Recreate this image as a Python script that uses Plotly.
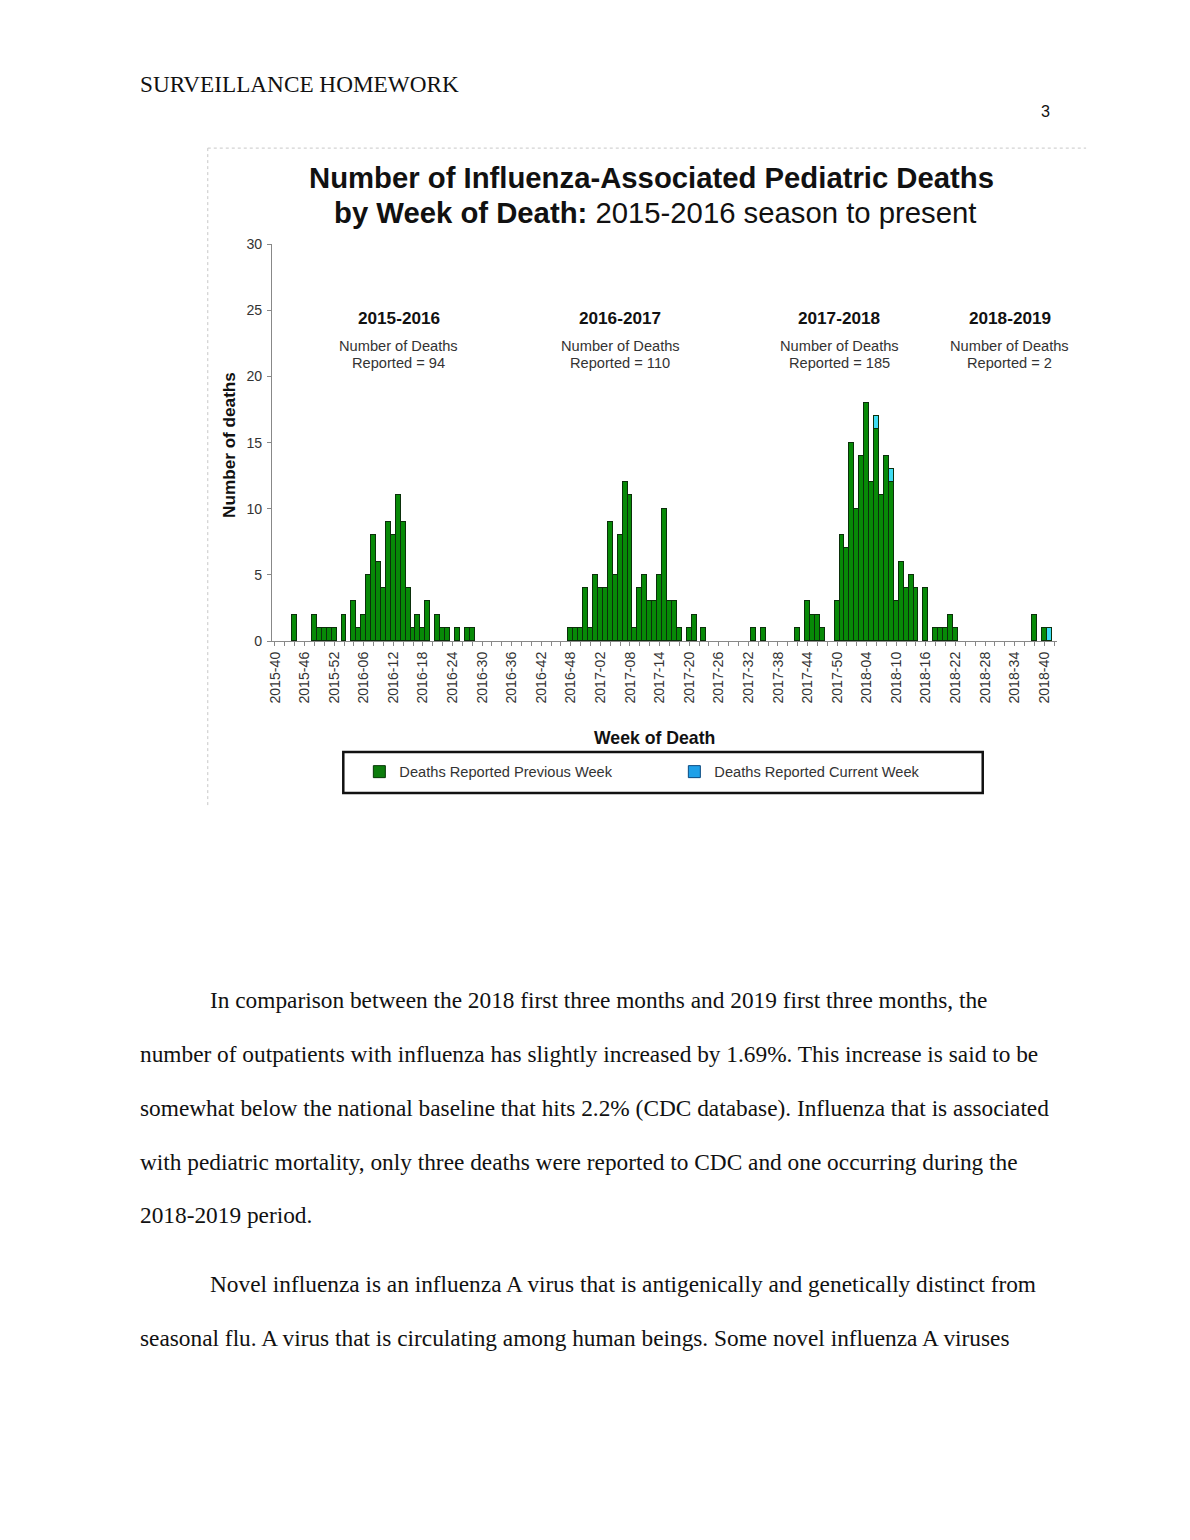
import plotly.graph_objects as go

W, H = 1190, 1540

# ---- category axis: MMWR weeks 2015-40 .. 2018-42 ----
week_spans = [(2015, 40, 52), (2016, 1, 52), (2017, 1, 52), (2018, 1, 42)]
weeks = []
for yr, first, last in week_spans:
    for wk in range(first, last + 1):
        weeks.append(f"{yr}-{wk:02d}")

# ---- data ----
prev_weeks = [
    "2015-44", "2015-48", "2015-49", "2015-50", "2015-51", "2015-52",
    "2016-02", "2016-04", "2016-05", "2016-06", "2016-07", "2016-08", "2016-09",
    "2016-10", "2016-11", "2016-12", "2016-13", "2016-14", "2016-15", "2016-16",
    "2016-17", "2016-18", "2016-19", "2016-21", "2016-22", "2016-23", "2016-25",
    "2016-27", "2016-28",
    "2016-48", "2016-49", "2016-50", "2016-51", "2016-52",
    "2017-01", "2017-02", "2017-03", "2017-04", "2017-05", "2017-06", "2017-07",
    "2017-08", "2017-09", "2017-10", "2017-11", "2017-12", "2017-13", "2017-14",
    "2017-15", "2017-16", "2017-17", "2017-18", "2017-20", "2017-21", "2017-23",
    "2017-33", "2017-35",
    "2017-42", "2017-44", "2017-45", "2017-46", "2017-47", "2017-50", "2017-51",
    "2017-52", "2018-01", "2018-02", "2018-03", "2018-04", "2018-05", "2018-06",
    "2018-07", "2018-08", "2018-09", "2018-10", "2018-11", "2018-12", "2018-13",
    "2018-14", "2018-16", "2018-18", "2018-19", "2018-20", "2018-21", "2018-22",
    "2018-38", "2018-40",
]
prev_deaths = [
    2, 2, 1, 1, 1, 1,
    2, 3, 1, 2, 5, 8, 6,
    4, 9, 8, 11, 9, 4, 1,
    2, 1, 3, 2, 1, 1, 1,
    1, 1,
    1, 1, 1, 4, 1,
    5, 4, 4, 9, 5, 8, 12,
    11, 1, 4, 5, 3, 3, 5,
    10, 3, 3, 1, 1, 2, 1,
    1, 1,
    1, 3, 2, 2, 1, 3, 8,
    7, 15, 10, 14, 18, 12, 16,
    11, 14, 12, 3, 6, 4, 5,
    4, 4, 1, 1, 1, 2, 1,
    2, 1,
]
curr_weeks = ["2018-06", "2018-09", "2018-41"]
curr_deaths = [1, 1, 1]

season_names = ["2015-2016", "2016-2017", "2017-2018", "2018-2019"]
season_totals = [94, 110, 185, 2]
season_label_x = [400, 621, 839, 1009]   # pixel centres of the season captions

y_ticks = [0, 5, 10, 15, 20, 25, 30]
tick_weeks = weeks[::2]
tick_text = [w if i % 3 == 0 else "" for i, w in enumerate(tick_weeks)]

GREEN = "#078a07"
CYAN = "#3fdcf2"
SANS = "Liberation Sans, Arial, sans-serif"
SERIF = "Liberation Serif, Times New Roman, serif"

# compensation for the viewer's small offset / scale
SX, OX = 0.992, 8.0
SY, OY = 0.9896, 7.9


def px(x):
    return ((x - OX) / SX) / W


def py(y):
    return 1 - ((y - OY) / SY) / H


def fs(v):
    return v / 0.99


fig = go.Figure()
fig.add_trace(go.Bar(
    x=prev_weeks, y=prev_deaths, name="Deaths Reported Previous Week",
    marker=dict(color=GREEN, line=dict(color="#0b300b", width=1)),
    showlegend=False,
))
fig.add_trace(go.Bar(
    x=curr_weeks, y=curr_deaths, name="Deaths Reported Current Week",
    marker=dict(color=CYAN, line=dict(color="#0b300b", width=1)),
    showlegend=False,
))
# legend entries (legend swatch colours differ slightly from bars in the source)
fig.add_trace(go.Bar(x=[None], y=[None], name="Deaths Reported Previous Week",
                     marker=dict(color="#0c7d0c", line=dict(color="#063806", width=1))))
fig.add_trace(go.Bar(x=[None], y=[None], name="Deaths Reported Current Week",
                     marker=dict(color="#1fa0e8", line=dict(color="#0a4a80", width=1))))

fig.update_layout(
    width=W, height=H,
    margin=dict(l=0, r=0, t=0, b=0),
    paper_bgcolor="white", plot_bgcolor="white",
    barmode="stack", bargap=0,
    font=dict(family=SANS, color="#222"),
    showlegend=True,
    legend=dict(
        orientation="h", traceorder="normal",
        x=px(361), y=py(772), xanchor="left", yanchor="middle",
        font=dict(family=SANS, size=fs(14.5), color="#333"),
        entrywidth=270, entrywidthmode="pixels", itemwidth=30,
        bgcolor="rgba(0,0,0,0)", borderwidth=0,
    ),
    xaxis=dict(
        domain=[px(274), px(1056)],
        type="category", categoryorder="array", categoryarray=weeks,
        range=[-0.6, len(weeks) - 0.4],
        tickmode="array", tickvals=tick_weeks, ticktext=tick_text,
        tickangle=-90, tickfont=dict(family=SANS, size=fs(14), color="#333"),
        ticks="outside", ticklen=4, tickcolor="#888", tickwidth=1,
        showline=True, linecolor="#888", linewidth=1,
        showgrid=False, zeroline=False, fixedrange=True,
    ),
    yaxis=dict(
        domain=[py(641), py(244)],
        range=[0, 30], tickmode="array", tickvals=y_ticks,
        tickfont=dict(family=SANS, size=fs(14), color="#333"),
        ticks="outside", ticklen=4, tickcolor="#888", tickwidth=1,
        ticklabelstandoff=2,
        showline=True, linecolor="#888", linewidth=1,
        showgrid=False, zeroline=False, fixedrange=True,
    ),
)

ann = []
# page header & page number
ann.append(dict(text="SURVEILLANCE HOMEWORK", x=px(140), y=py(84), xanchor="left", yanchor="middle",
                font=dict(family=SERIF, size=fs(23), color="#111")))
ann.append(dict(text="3", x=px(1045), y=py(111), xanchor="center", yanchor="middle",
                font=dict(family=SANS, size=fs(16), color="#111")))
# chart title
ann.append(dict(text="<b>Number of Influenza-Associated Pediatric Deaths</b>",
                x=px(652), y=py(177), xanchor="center", yanchor="middle",
                font=dict(family=SANS, size=fs(29), color="#111")))
ann.append(dict(text="<b>by Week of Death:</b> 2015-2016 season to present",
                x=px(656), y=py(212), xanchor="center", yanchor="middle",
                font=dict(family=SANS, size=fs(29), color="#111")))
# season captions
for name, total, sx in zip(season_names, season_totals, season_label_x):
    ann.append(dict(text=f"<b>{name}</b>", x=px(sx), y=py(318), xanchor="center", yanchor="middle",
                    font=dict(family=SANS, size=fs(17), color="#111")))
    ann.append(dict(text="Number of Deaths", x=px(sx), y=py(346), xanchor="center", yanchor="middle",
                    font=dict(family=SANS, size=fs(14.5), color="#333")))
    ann.append(dict(text=f"Reported = {total}", x=px(sx), y=py(363), xanchor="center", yanchor="middle",
                    font=dict(family=SANS, size=fs(14.5), color="#333")))
# axis titles
ann.append(dict(text="<b>Number of deaths</b>", x=px(231), y=py(445), xanchor="center", yanchor="middle",
                textangle=-90, font=dict(family=SANS, size=fs(17), color="#111")))
ann.append(dict(text="<b>Week of Death</b>", x=px(655), y=py(738), xanchor="center", yanchor="middle",
                font=dict(family=SANS, size=fs(17.5), color="#111")))

# body text
body_lines = [
    (210, 1000, "In comparison between the 2018 first three months and 2019 first three months, the"),
    (140, 1054, "number of outpatients with influenza has slightly increased by 1.69%. This increase is said to be"),
    (140, 1108, "somewhat below the national baseline that hits 2.2% (CDC database). Influenza that is associated"),
    (140, 1162, "with pediatric mortality, only three deaths were reported to CDC and one occurring during the"),
    (140, 1215, "2018-2019 period."),
    (210, 1284, "Novel influenza is an influenza A virus that is antigenically and genetically distinct from"),
    (140, 1338, "seasonal flu. A virus that is circulating among human beings. Some novel influenza A viruses"),
]
for bx, by, txt in body_lines:
    ann.append(dict(text=txt, x=px(bx), y=py(by), xanchor="left", yanchor="middle",
                    font=dict(family=SERIF, size=fs(23.1), color="#111")))

for a in ann:
    a.update(xref="paper", yref="paper", showarrow=False)
fig.update_layout(annotations=ann)

# picture frame (dotted) and legend box
fig.update_layout(shapes=[
    dict(type="line", xref="paper", yref="paper", x0=px(210), x1=px(1085), y0=py(148), y1=py(148),
         line=dict(color="#c8c8c8", width=1, dash="dot")),
    dict(type="line", xref="paper", yref="paper", x0=px(210), x1=px(210), y0=py(148), y1=py(805),
         line=dict(color="#c8c8c8", width=1, dash="dot")),
    dict(type="rect", xref="paper", yref="paper", x0=px(345), x1=px(982), y0=py(752), y1=py(793),
         line=dict(color="#111", width=2.5), fillcolor="rgba(0,0,0,0)", layer="below"),
])

fig.write_html(
    "out.html",
    config={"displayModeBar": False},
    post_script="document.body.style.margin='0';document.body.style.padding='0';"
                "document.documentElement.style.overflow='hidden';",
)
